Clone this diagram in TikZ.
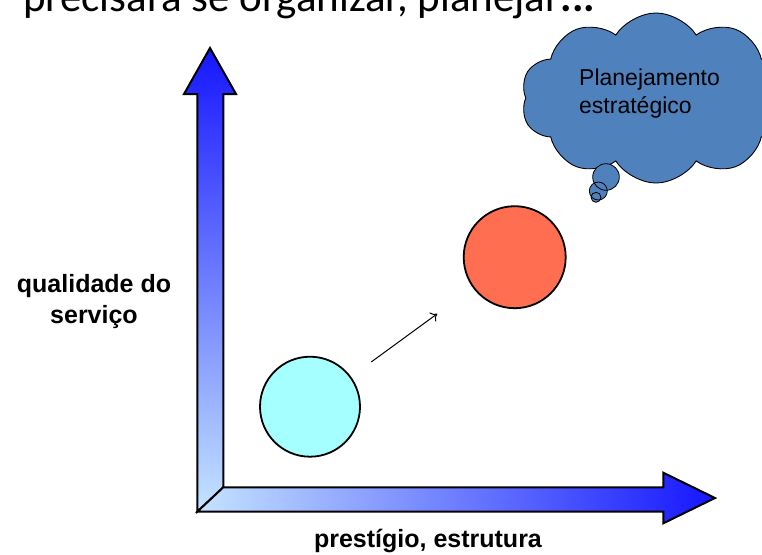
\documentclass[tikz,border=0pt]{standalone}
\usepackage{fontspec}
\setmainfont{Liberation Sans}
\newfontfamily\titlefont{Carlito}
\usetikzlibrary{shapes.symbols,arrows.meta}
\definecolor{deepblue}{RGB}{22,22,255}
\definecolor{paleblue}{RGB}{196,228,255}
\definecolor{cloudblue}{RGB}{79,129,189}
\definecolor{cyanfill}{RGB}{166,255,255}
\definecolor{redfill}{RGB}{255,110,80}
\tikzset{
  axisline/.style={draw=black, line width=2pt, line join=miter},
  ball/.style={circle, draw=black, line width=1.8pt, inner sep=0pt},
  bubble/.style={circle, fill=cloudblue, inner sep=0pt},
  bubbleline/.style={circle, draw=black, line width=0.8pt, inner sep=0pt},
  axislabel/.style={font=\bfseries\fontsize{25}{31}\selectfont, inner sep=0pt},
  cloudtext/.style={font=\fontsize{23}{28}\selectfont, inner sep=0pt, anchor=base west}
}
\begin{document}
\begin{tikzpicture}[x=1pt,y=-1pt]
\useasboundingbox (0,0) rectangle (762,554);
\fill[white] (0,0) rectangle (762,554);

% title (cut off at the top)
\node[anchor=base west, inner sep=0pt, font=\titlefont\fontsize{43}{50}\selectfont] (title) at (23,12)
  {precisará se organizar, planejar\textbf{...}};

% vertical axis arrow
\shade[top color=deepblue, bottom color=paleblue, axisline]
  (210,48) -- (236,94) -- (223.3,94) -- (223.3,487.3) -- (197.3,511.7)
  -- (197.3,94) -- (184,94) -- cycle;
% horizontal axis arrow
\shade[left color=paleblue, right color=deepblue, axisline]
  (197.3,511.7) -- (223.3,487.3) -- (663.3,487.3) -- (663.3,472.7)
  -- (715,498) -- (663.3,523.3) -- (663.3,511.7) -- cycle;

% axis labels
\node[axislabel, align=center] (ylab) at (94,302) {qualidade do\\serviço};
\node[axislabel, anchor=base] (xlab) at (428,547) {prestígio, estrutura};

% circles
\node[ball, fill=cyanfill, minimum size=100pt] (low) at (310,406.7) {};
\node[ball, fill=redfill, minimum size=102pt] (high) at (514.7,257.2) {};
\draw[line width=1pt, -{To[length=6pt,width=11pt]}, shorten <=25pt, shorten >=44pt] (low) -- (high);

% thought cloud
\node[cloud, cloud puffs=10, cloud puff arc=115, cloud ignores aspect, draw=black, line width=0.9pt,
      fill=cloudblue, minimum width=270pt, minimum height=170pt, inner sep=0pt] (cloud) at (656,98) {};
\node[bubble, minimum size=26.6pt] (b1) at (606,177) {};
\node[bubble, minimum size=18pt] (b2) at (598.3,191) {};
\node[bubble, minimum size=10pt] (b3) at (596,197.3) {};
\node[bubbleline, minimum size=26.6pt] (b1l) at (b1) {};
\node[bubbleline, minimum size=18pt] (b2l) at (b2) {};
\node[bubbleline, minimum size=10pt] (b3l) at (b3) {};
\node[cloudtext] (ct1) at (579,85) {Planejamento};
\node[cloudtext] (ct2) at (579,113) {estratégico};
\end{tikzpicture}
\end{document}
